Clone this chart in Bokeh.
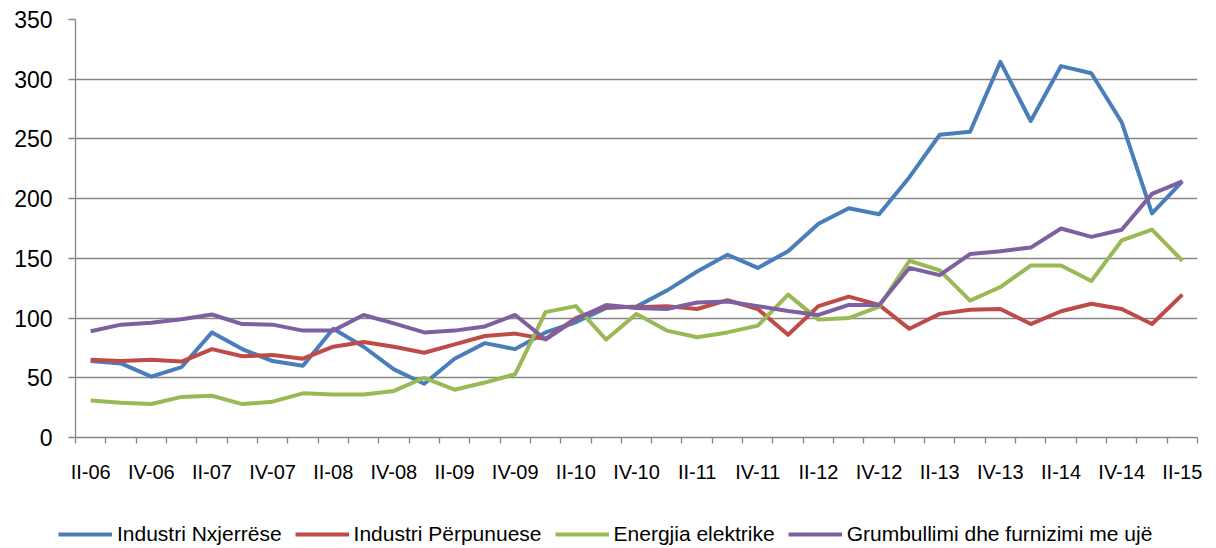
from bokeh.plotting import figure
from bokeh.models import Range1d, FixedTicker, Legend, LegendItem, ColumnDataSource
from bokeh.layouts import column
from bokeh.embed import file_html
from bokeh.resources import INLINE

quarters = []
for yr in range(6, 16):
    for q in ["I", "II", "III", "IV"]:
        quarters.append(f"{q}-{yr:02d}")
categories = quarters[1:38]  # II-06 .. II-15

nxjerrese = [64, 62, 51, 59, 88, 74, 64, 60, 91, 76, 57, 45, 66, 79, 74, 88, 96.5, 108.5, 109.6, 123,
             139, 153, 142, 156, 179, 192, 187, 218, 253.5, 256, 314.5, 265, 311, 305, 264, 187.7, 214.4]
perpunuese = [65, 64, 65, 63.6, 74, 68, 69, 66, 76, 80, 76, 71, 78, 85, 87, 82.5, 100, 109.6, 109, 110,
              107.6, 115, 107.6, 86, 110, 118, 111, 91, 103.5, 107, 107.6, 95, 105.7, 112, 107.6, 95, 119.6]
energjia = [31, 29, 28, 34, 35, 28, 30, 37, 36, 36, 39, 50, 40, 46, 53, 105, 110, 82, 103.5, 89.5,
            84, 88, 93.7, 119.6, 98.7, 100, 109.6, 148, 140, 114.6, 126, 144, 144, 131, 165, 174, 148]
uje = [89, 94.5, 96, 99, 103, 95, 94.5, 89.5, 89.5, 102.6, 95.6, 88, 89.5, 93, 102.6, 82, 99, 111, 108.5,
       107.6, 113, 113.8, 110, 106, 102.6, 111, 111, 142, 136, 153.6, 156, 159, 175, 168, 174, 204, 214.4]

series_names = ["Industri Nxjerrëse", "Industri Përpunuese", "Energjia elektrike",
                "Grumbullimi dhe furnizimi me ujë"]
colors = ["#4A7EBB", "#BE4B48", "#98B954", "#7D60A0"]
y_ticks = [0, 50, 100, 150, 200, 250, 300, 350]

idx = list(range(len(categories)))
src = ColumnDataSource(dict(x=idx, a=nxjerrese, b=perpunuese, c=energjia, d=uje))

grey = "#868686"
font = "Liberation Sans"

p = figure(width=1216, height=500, output_backend="svg", toolbar_location=None,
           x_range=Range1d(-0.5, len(categories) - 0.5), y_range=Range1d(0, 350),
           min_border_left=75, min_border_right=19, min_border_top=19, min_border_bottom=63)
p.frame_align = False
p.outline_line_color = None
p.background_fill_color = "white"
p.border_fill_color = "white"

for col, color in zip(["a", "b", "c", "d"], colors):
    p.line("x", col, source=src, line_color=color, line_width=4, line_join="round")

# x axis
xa = p.below[0]
xa.ticker = FixedTicker(ticks=idx[::2], minor_ticks=[i - 0.5 for i in range(len(categories) + 1)])
xa.major_label_overrides = {i: categories[i] for i in idx[::2]}
xa.major_tick_out = 0
xa.major_tick_in = 0
xa.minor_tick_out = 6
xa.minor_tick_in = 0
xa.minor_tick_line_color = grey
xa.minor_tick_line_width = 1.3
xa.axis_line_color = grey
xa.axis_line_width = 1.3
xa.major_label_standoff = 17
xa.major_label_text_font = font
xa.major_label_text_font_size = "20px"
xa.major_label_text_color = "black"
p.xgrid.grid_line_color = None

# y axis
ya = p.left[0]
ya.ticker = FixedTicker(ticks=y_ticks)
ya.major_tick_out = 7
ya.major_tick_in = 0
ya.minor_tick_line_color = None
ya.major_tick_line_color = grey
ya.major_tick_line_width = 1.3
ya.axis_line_color = grey
ya.axis_line_width = 1.3
ya.major_label_standoff = 16
ya.major_label_text_font = font
ya.major_label_text_font_size = "23px"
ya.major_label_text_color = "black"
p.ygrid.grid_line_color = grey
p.ygrid.grid_line_width = 1.3

# legend strip below the chart (series drawn out of its view; only legend keys show)
lg = figure(width=1216, height=48, output_backend="svg", toolbar_location=None,
            x_range=Range1d(0, 1), y_range=Range1d(0, 1),
            min_border_left=0, min_border_right=0, min_border_top=0, min_border_bottom=0)
lg.frame_align = False
lg.axis.visible = False
lg.grid.visible = False
lg.outline_line_color = None
lg.border_fill_color = "white"
lg.background_fill_color = "white"
leg_renderers = [lg.line("x", col, source=src, line_color=c, line_width=4)
                 for col, c in zip(["a", "b", "c", "d"], colors)]
items = [LegendItem(label=n, renderers=[r]) for n, r in zip(series_names, leg_renderers)]
legend = Legend(items=items, orientation="horizontal", location=(58, 2),
                glyph_width=54, glyph_height=20, label_standoff=5, spacing=13,
                padding=0, margin=0, border_line_color=None, background_fill_alpha=0,
                label_text_font=font, label_text_font_size="21px", label_text_color="black")
lg.add_layout(legend)

layout = column(p, lg, spacing=0)
open("out.html", "w").write(file_html(layout, INLINE))
